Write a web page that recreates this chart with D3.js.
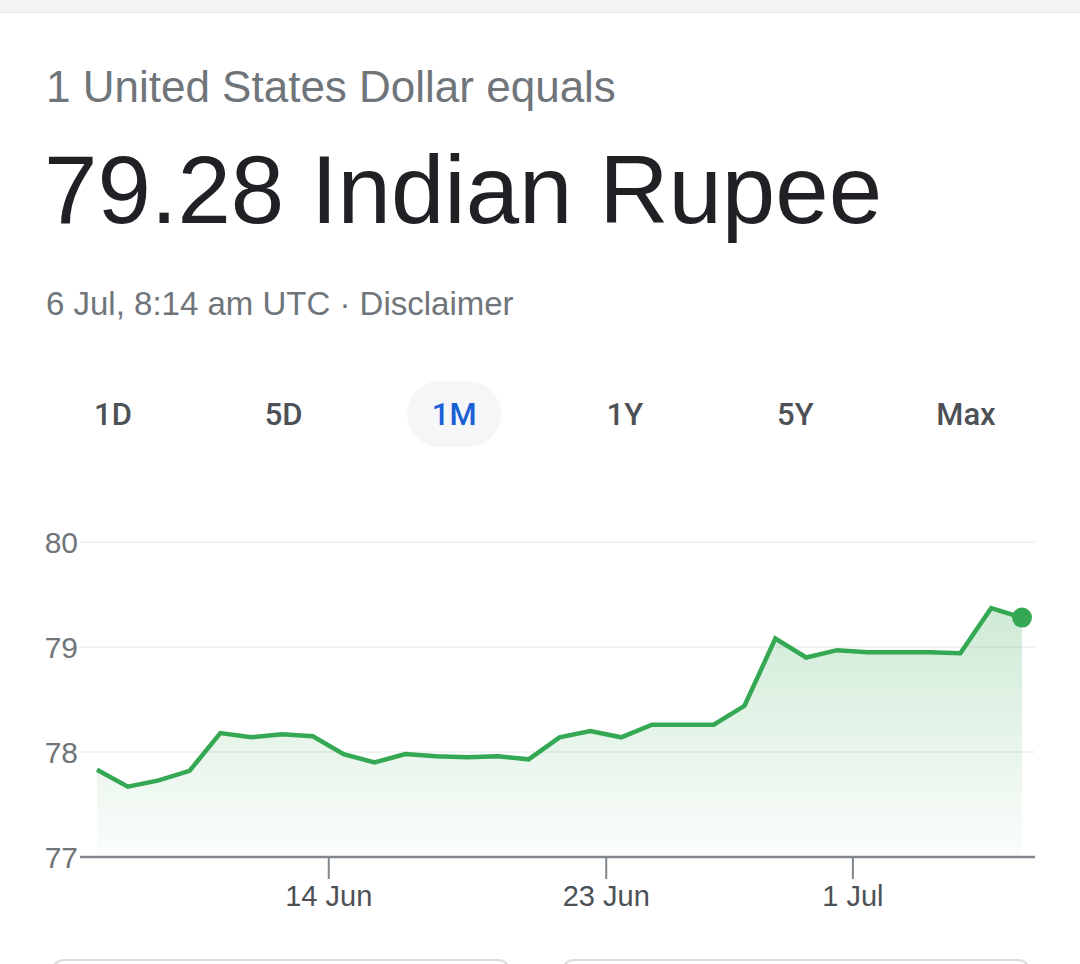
<!DOCTYPE html>
<html>
<head>
<meta charset="utf-8">
<script src="https://cdn.jsdelivr.net/npm/d3@7"></script>
<style>
  html, body { margin: 0; padding: 0; background: #fff; }
  svg { display: block; font-family: "Liberation Sans", Arial, sans-serif; }
</style>
</head>
<body>
<svg id="chart" width="1080" height="964"></svg>
<script>
// ---- Data ----
const dates = [
  "2022-06-06T12:00","2022-06-07T12:00","2022-06-08T12:00","2022-06-09T12:00","2022-06-10T12:00",
  "2022-06-11T12:00","2022-06-12T12:00","2022-06-13T12:00","2022-06-14T12:00","2022-06-15T12:00",
  "2022-06-16T12:00","2022-06-17T12:00","2022-06-18T12:00","2022-06-19T12:00","2022-06-20T12:00",
  "2022-06-21T12:00","2022-06-22T12:00","2022-06-23T12:00","2022-06-24T12:00","2022-06-25T12:00",
  "2022-06-26T12:00","2022-06-27T12:00","2022-06-28T12:00","2022-06-29T12:00","2022-06-30T12:00",
  "2022-07-01T12:00","2022-07-02T12:00","2022-07-03T12:00","2022-07-04T12:00","2022-07-05T12:00",
  "2022-07-06T12:00"
];
const rates = [
  77.83, 77.67, 77.73, 77.82, 78.18, 78.14, 78.17, 78.15, 77.98, 77.90,
  77.98, 77.96, 77.95, 77.96, 77.93, 78.14, 78.20, 78.14, 78.26, 78.26,
  78.26, 78.44, 79.08, 78.90, 78.97, 78.95, 78.95, 78.95, 78.94, 79.37,
  79.28
];
const yTicks = [77, 78, 79, 80];
const xTickDates = ["2022-06-14T00:00", "2022-06-23T00:00", "2022-07-01T00:00"];
const xTickLabels = ["14 Jun", "23 Jun", "1 Jul"];
const rangeTabs = ["1D", "5D", "1M", "1Y", "5Y", "Max"];
const activeTab = "1M";
const headerSub = "1 United States Dollar equals";
const headerMain = "79.28 Indian Rupee";
const headerDate = "6 Jul, 8:14 am UTC · Disclaimer";

// ---- Setup ----
const svg = d3.select("#chart");
const parse = d3.timeParse("%Y-%m-%dT%H:%M");
const data = dates.map((d, i) => ({ date: parse(d), value: rates[i] }));

// top browser bar
svg.append("rect").attr("x", 0).attr("y", 0).attr("width", 1080).attr("height", 12).attr("fill", "#f1f3f4");
svg.append("line").attr("x1", 0).attr("x2", 1080).attr("y1", 12.5).attr("y2", 12.5).attr("stroke", "#e3e5e8");

// header text
svg.append("text").attr("x", 46).attr("y", 102).attr("font-size", 44).attr("fill", "#70757a").text(headerSub);
svg.append("text").attr("x", 44).attr("y", 223).attr("font-size", 96).attr("fill", "#202124").text(headerMain);
svg.append("text").attr("x", 46).attr("y", 315).attr("font-size", 33).attr("fill", "#70757a").text(headerDate);

// range tabs
const tabScale = d3.scalePoint().domain(rangeTabs).range([113, 966]);
const tabs = svg.append("g");
tabs.append("rect")
  .attr("x", tabScale(activeTab) - 47).attr("y", 381)
  .attr("width", 94).attr("height", 66).attr("rx", 33)
  .attr("fill", "#f5f6f7");
tabs.selectAll("text").data(rangeTabs).join("text")
  .attr("x", d => tabScale(d)).attr("y", 425)
  .attr("text-anchor", "middle").attr("font-size", 31).attr("font-weight", 500)
  .attr("font-family", "Roboto, 'Liberation Sans', sans-serif")
  .attr("fill", d => d === activeTab ? "#1a5fd6" : "#4d5156")
  .text(d => d);

// scales
const x = d3.scaleTime().domain(d3.extent(data, d => d.date)).range([97, 1022]);
const y = d3.scaleLinear().domain([77, 80]).range([857, 542]);

// gridlines
svg.append("g").selectAll("line").data(yTicks.filter(t => t !== 77)).join("line")
  .attr("x1", 80).attr("x2", 1035)
  .attr("y1", d => y(d)).attr("y2", d => y(d))
  .attr("stroke", "#eeeeee").attr("stroke-width", 1.5);

// y labels
svg.append("g").selectAll("text").data(yTicks).join("text")
  .attr("x", 78).attr("y", d => y(d)).attr("dy", "0.36em")
  .attr("text-anchor", "end").attr("font-size", 30).attr("fill", "#70757a")
  .text(d => d);

// gradient
const defs = svg.append("defs");
const grad = defs.append("linearGradient").attr("id", "areaGrad")
  .attr("gradientUnits", "userSpaceOnUse")
  .attr("x1", 0).attr("x2", 0).attr("y1", y(79.4)).attr("y2", y(77));
grad.append("stop").attr("offset", "0%").attr("stop-color", "#34a853").attr("stop-opacity", 0.24);
grad.append("stop").attr("offset", "100%").attr("stop-color", "#34a853").attr("stop-opacity", 0.02);

// area
const area = d3.area().x(d => x(d.date)).y0(y(77)).y1(d => y(d.value));
svg.append("path").datum(data).attr("d", area).attr("fill", "url(#areaGrad)");

// x axis
const xAxis = d3.axisBottom(x)
  .tickValues(xTickDates.map(parse))
  .tickFormat((d, i) => xTickLabels[i])
  .tickSize(22).tickSizeOuter(0).tickPadding(6);
const gx = svg.append("g").attr("transform", `translate(0,${y(77)})`).call(xAxis);
gx.select(".domain").attr("d", `M80,0H1035`).attr("stroke", "#80868b").attr("stroke-width", 2.5);
gx.selectAll(".tick line").attr("stroke", "#80868b").attr("stroke-width", 2);
gx.selectAll(".tick text").attr("font-size", 29).attr("fill", "#4d5156")
  .attr("font-family", "'Liberation Sans', Arial, sans-serif");

// line
const line = d3.line().x(d => x(d.date)).y(d => y(d.value));
svg.append("path").datum(data).attr("d", line)
  .attr("fill", "none").attr("stroke", "#34a853").attr("stroke-width", 4.5)
  .attr("stroke-linejoin", "miter").attr("stroke-linecap", "butt");

// last point dot
const last = data[data.length - 1];
svg.append("circle").attr("cx", x(last.date)).attr("cy", y(last.value)).attr("r", 10).attr("fill", "#34a853");

// bottom cards (partially visible)
svg.append("rect").attr("x", 52).attr("y", 960).attr("width", 458).attr("height", 40).attr("rx", 12)
  .attr("fill", "none").attr("stroke", "#dadce0").attr("stroke-width", 2);
svg.append("rect").attr("x", 562).attr("y", 960).attr("width", 468).attr("height", 40).attr("rx", 12)
  .attr("fill", "none").attr("stroke", "#dadce0").attr("stroke-width", 2);
</script>
</body>
</html>
